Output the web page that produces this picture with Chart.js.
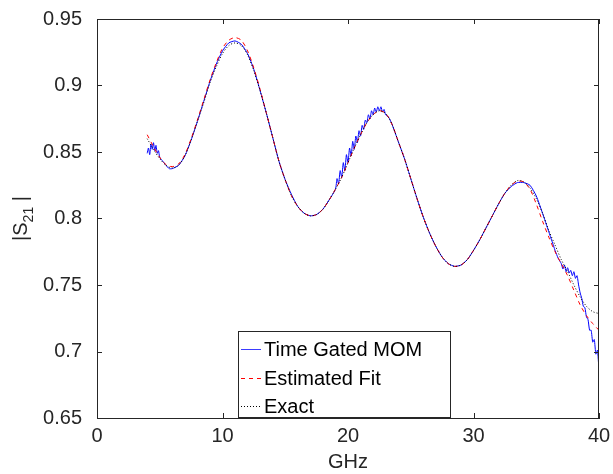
<!DOCTYPE html>
<html>
<head>
<meta charset="utf-8">
<script src="https://cdn.jsdelivr.net/npm/chart.js@4.4.1/dist/chart.umd.min.js"></script>
<style>
  body { margin: 0; background: #fff; }
  #wrap { width: 613px; height: 474px; }
</style>
</head>
<body>
<div id="wrap"><canvas id="s21Chart" width="613" height="474"></canvas></div>
<script>
// frequency axis (GHz) for the fit and the exact curve
var fitFreq = [4.0, 4.5, 5.0, 5.5, 6.0, 6.5, 7.0, 7.5, 8.0, 8.5, 9.0, 9.5, 10.0, 10.5, 11.0, 11.5, 12.0, 12.5,
  13.0, 13.5, 14.0, 14.5, 15.0, 15.5, 16.0, 16.5, 17.0, 17.5, 18.0, 18.5, 19.0, 19.5, 20.0, 20.5, 21.0, 21.5,
  22.0, 22.5, 23.0, 23.5, 24.0, 24.5, 25.0, 25.5, 26.0, 26.5, 27.0, 27.5, 28.0, 28.5, 29.0, 29.5, 30.0, 30.5,
  31.0, 31.5, 32.0, 32.5, 33.0, 33.5, 34.0, 34.5, 35.0, 35.5, 36.0, 36.5, 37.0, 37.5, 38.0, 38.5, 39.0, 39.5, 40.0];

var fitValues = [0.863, 0.854, 0.846, 0.8405, 0.839, 0.841, 0.848, 0.860, 0.874, 0.889, 0.904, 0.917, 0.928, 0.934, 0.936, 0.934, 0.926, 0.913,
  0.897, 0.879, 0.861, 0.843, 0.829, 0.817, 0.809, 0.804, 0.802, 0.803, 0.807, 0.814, 0.822, 0.831, 0.842, 0.853, 0.863, 0.872,
  0.878, 0.881, 0.879, 0.871, 0.858, 0.845, 0.830, 0.815, 0.801, 0.789, 0.779, 0.771, 0.766, 0.764, 0.765, 0.769, 0.776, 0.784,
  0.793, 0.802, 0.811, 0.819, 0.825, 0.828, 0.8275, 0.822, 0.811, 0.798, 0.786, 0.775, 0.766, 0.757, 0.746, 0.735, 0.727, 0.721, 0.716];

var exactValues = [0.860, 0.852, 0.845, 0.840, 0.838, 0.840, 0.847, 0.859, 0.873, 0.887, 0.902, 0.914, 0.924, 0.930, 0.932, 0.930, 0.923, 0.911,
  0.896, 0.879, 0.861, 0.843, 0.829, 0.817, 0.809, 0.804, 0.802, 0.803, 0.807, 0.814, 0.822, 0.831, 0.842, 0.853, 0.863, 0.872,
  0.878, 0.881, 0.879, 0.871, 0.858, 0.845, 0.830, 0.815, 0.801, 0.789, 0.779, 0.771, 0.766, 0.764, 0.765, 0.769, 0.776, 0.784,
  0.793, 0.802, 0.811, 0.819, 0.825, 0.8285, 0.8275, 0.823, 0.815, 0.804, 0.791, 0.780, 0.769, 0.760, 0.750, 0.741, 0.734, 0.730, 0.7285];

// time gated MOM result, sampled finer where it ripples
var momFreq = [4.0, 4.1, 4.2, 4.3, 4.4, 4.5, 4.6, 4.7, 4.8, 4.9, 5.0, 5.25, 5.5, 5.75, 6.0, 6.5, 7.0, 7.5, 8.0, 8.5,
  9.0, 9.5, 10.0, 10.5, 11.0, 11.5, 12.0, 12.5, 13.0, 13.5, 14.0, 14.5, 15.0, 15.5, 16.0, 16.5, 17.0, 17.5, 18.0, 18.5,
  19.0, 19.125, 19.25, 19.375, 19.5, 19.625, 19.75, 19.875, 20.0, 20.125, 20.25, 20.375, 20.5, 20.625, 20.75, 20.875,
  21.0, 21.125, 21.25, 21.375, 21.5, 21.625, 21.75, 21.875, 22.0, 22.125, 22.25, 22.375, 22.5, 22.625, 22.75, 22.875,
  23.0, 23.25, 23.5, 24.0, 24.5, 25.0, 25.5, 26.0, 26.5, 27.0, 27.5, 28.0, 28.5, 29.0, 29.5, 30.0, 30.5, 31.0, 31.5,
  32.0, 32.5, 33.0, 33.5, 34.0, 34.5, 35.0, 35.5, 36.0, 36.25, 36.5, 36.75, 36.875, 37.0, 37.125, 37.25, 37.375, 37.5,
  37.625, 37.75, 37.875, 38.0, 38.125, 38.25, 38.375, 38.5, 38.625, 38.75, 38.875, 39.0, 39.125, 39.25, 39.375, 39.5,
  39.625, 39.75, 39.875, 40.0];

var momValues = [0.849, 0.853, 0.848, 0.856, 0.852, 0.857, 0.851, 0.855, 0.849, 0.851, 0.846, 0.843, 0.840, 0.8375, 0.8375, 0.840, 0.847, 0.859, 0.873, 0.888,
  0.903, 0.916, 0.926, 0.932, 0.9335, 0.931, 0.924, 0.912, 0.896, 0.879, 0.861, 0.843, 0.829, 0.818, 0.809, 0.804, 0.802, 0.803, 0.807, 0.814,
  0.822, 0.830, 0.826, 0.836, 0.831, 0.842, 0.836, 0.848, 0.842, 0.853, 0.847, 0.858, 0.852, 0.862, 0.857, 0.866,
  0.862, 0.870, 0.867, 0.874, 0.872, 0.878, 0.875, 0.881, 0.878, 0.883, 0.880, 0.884, 0.881, 0.884, 0.880, 0.882,
  0.878, 0.876, 0.871, 0.858, 0.845, 0.830, 0.815, 0.801, 0.789, 0.779, 0.771, 0.766, 0.764, 0.765, 0.769, 0.776, 0.784, 0.793, 0.802,
  0.811, 0.819, 0.824, 0.827, 0.827, 0.825, 0.817, 0.804, 0.790, 0.783, 0.776, 0.770, 0.768, 0.766, 0.762, 0.765, 0.760, 0.763,
  0.759, 0.761, 0.757, 0.760, 0.755, 0.757, 0.750, 0.744, 0.740, 0.734, 0.733, 0.726, 0.724, 0.716, 0.716, 0.707,
  0.709, 0.698, 0.701, 0.686];

var seriesNames = ['Time Gated MOM', 'Estimated Fit', 'Exact'];
var xTicks = [0, 10, 20, 30, 40];
var yTicks = [0.65, 0.7, 0.75, 0.8, 0.85, 0.9, 0.95];

function toPoints(xs, ys) {
  return xs.map(function (x, i) { return { x: x, y: ys[i] }; });
}

var axisColor = '#262626';
var fontFamily = '"Liberation Sans", Arial, Helvetica, sans-serif';

// box, inward ticks, y label and legend, drawn the MATLAB way
var matlabLook = {
  id: 'matlabLook',
  afterDraw: function (chart) {
    var ctx = chart.ctx;
    var a = chart.chartArea;
    var xs = chart.scales.x, ys = chart.scales.y;
    var tick = 5;
    ctx.save();
    ctx.strokeStyle = axisColor;
    ctx.lineWidth = 1;
    ctx.beginPath();
    ctx.moveTo(a.left, a.top + 0.5); ctx.lineTo(a.right, a.top + 0.5);
    ctx.moveTo(a.right - 0.5, a.top); ctx.lineTo(a.right - 0.5, a.bottom);
    xTicks.forEach(function (v) {
      var px = Math.round(xs.getPixelForValue(v)) + 0.5;
      ctx.moveTo(px, a.bottom); ctx.lineTo(px, a.bottom - tick);
      ctx.moveTo(px, a.top); ctx.lineTo(px, a.top + tick);
    });
    yTicks.forEach(function (v) {
      var py = Math.round(ys.getPixelForValue(v)) + 0.5;
      ctx.moveTo(a.left, py); ctx.lineTo(a.left + tick, py);
      ctx.moveTo(a.right, py); ctx.lineTo(a.right - tick, py);
    });
    ctx.stroke();

    // y label |S21|
    ctx.fillStyle = axisColor;
    ctx.textBaseline = 'alphabetic';
    ctx.translate(27, (a.top + a.bottom) / 2);
    ctx.rotate(-Math.PI / 2);
    ctx.font = '20px ' + fontFamily;
    var w1 = ctx.measureText('|S').width;
    ctx.font = '14px ' + fontFamily;
    var w2 = ctx.measureText('21').width;
    ctx.font = '20px ' + fontFamily;
    var w3 = ctx.measureText(' |').width;
    var start = -(w1 + w2 + w3) / 2;
    ctx.fillText('|S', start, 0);
    ctx.font = '14px ' + fontFamily;
    ctx.fillText('21', start + w1, 6);
    ctx.font = '20px ' + fontFamily;
    ctx.fillText(' |', start + w1 + w2, 0);
    ctx.restore();

    // legend
    var lx = 238.5, ly = 331.5, lw = 212, lh = 86;
    ctx.save();
    ctx.fillStyle = '#fff';
    ctx.fillRect(lx, ly, lw, lh);
    ctx.strokeStyle = axisColor;
    ctx.lineWidth = 1;
    ctx.strokeRect(lx, ly, lw, lh);
    var rows = [349, 378, 406];
    var styles = [
      { color: '#3b3bff', dash: [] },
      { color: 'rgb(255,0,0)', dash: [4, 4] },
      { color: 'rgb(0,0,0)', dash: [1, 2] }
    ];
    ctx.font = '20px ' + fontFamily;
    ctx.textBaseline = 'middle';
    seriesNames.forEach(function (name, i) {
      ctx.beginPath();
      ctx.setLineDash(styles[i].dash);
      ctx.strokeStyle = styles[i].color;
      ctx.lineWidth = 1;
      ctx.moveTo(241, rows[i] + 0.5);
      ctx.lineTo(261, rows[i] + 0.5);
      ctx.stroke();
      ctx.setLineDash([]);
      ctx.fillStyle = '#000';
      ctx.fillText(name, 264, rows[i] + 1);
    });
    ctx.restore();
  }
};

var ctx = document.getElementById('s21Chart').getContext('2d');

var s21Chart = new Chart(ctx, {
  type: 'line',
  data: {
    datasets: [{
      label: seriesNames[0],
      data: toPoints(momFreq, momValues),
      borderColor: 'rgb(0,0,255)',
      borderWidth: 1,
      pointRadius: 0,
      tension: 0.2,
      order: 3
    }, {
      label: seriesNames[1],
      data: toPoints(fitFreq, fitValues),
      borderColor: 'rgb(255,0,0)',
      borderWidth: 1,
      borderDash: [4, 4],
      pointRadius: 0,
      tension: 0.3,
      order: 2
    }, {
      label: seriesNames[2],
      data: toPoints(fitFreq, exactValues),
      borderColor: 'rgb(0,0,0)',
      borderWidth: 1,
      borderDash: [1, 2],
      pointRadius: 0,
      tension: 0.3,
      order: 1
    }]
  },
  options: {
    responsive: false,
    animation: false,
    devicePixelRatio: 1,
    layout: { padding: { top: 18, right: 14, left: 0, bottom: 0 } },
    plugins: {
      legend: { display: false },
      tooltip: { enabled: false }
    },
    scales: {
      x: {
        type: 'linear',
        min: 0,
        max: 40,
        grid: { display: false },
        border: { color: axisColor, width: 1 },
        afterBuildTicks: function (scale) {
          scale.ticks = xTicks.map(function (v) { return { value: v }; });
        },
        ticks: {
          padding: -2,
          color: axisColor,
          maxRotation: 0,
          font: { family: fontFamily, size: 20 }
        },
        title: {
          display: true,
          text: 'GHz',
          color: axisColor,
          padding: 0,
          font: { family: fontFamily, size: 20 }
        },
        afterFit: function (scale) { scale.height = 56; }
      },
      y: {
        type: 'linear',
        min: 0.65,
        max: 0.95,
        grid: { display: false },
        border: { color: axisColor, width: 1 },
        afterBuildTicks: function (scale) {
          scale.ticks = yTicks.map(function (v) { return { value: v }; });
        },
        ticks: {
          padding: 7,
          color: axisColor,
          font: { family: fontFamily, size: 20 },
          callback: function (v) { return String(Math.round(v * 100) / 100); }
        },
        afterFit: function (scale) { scale.width = 97; }
      }
    }
  },
  plugins: [matlabLook]
});
</script>
</body>
</html>
